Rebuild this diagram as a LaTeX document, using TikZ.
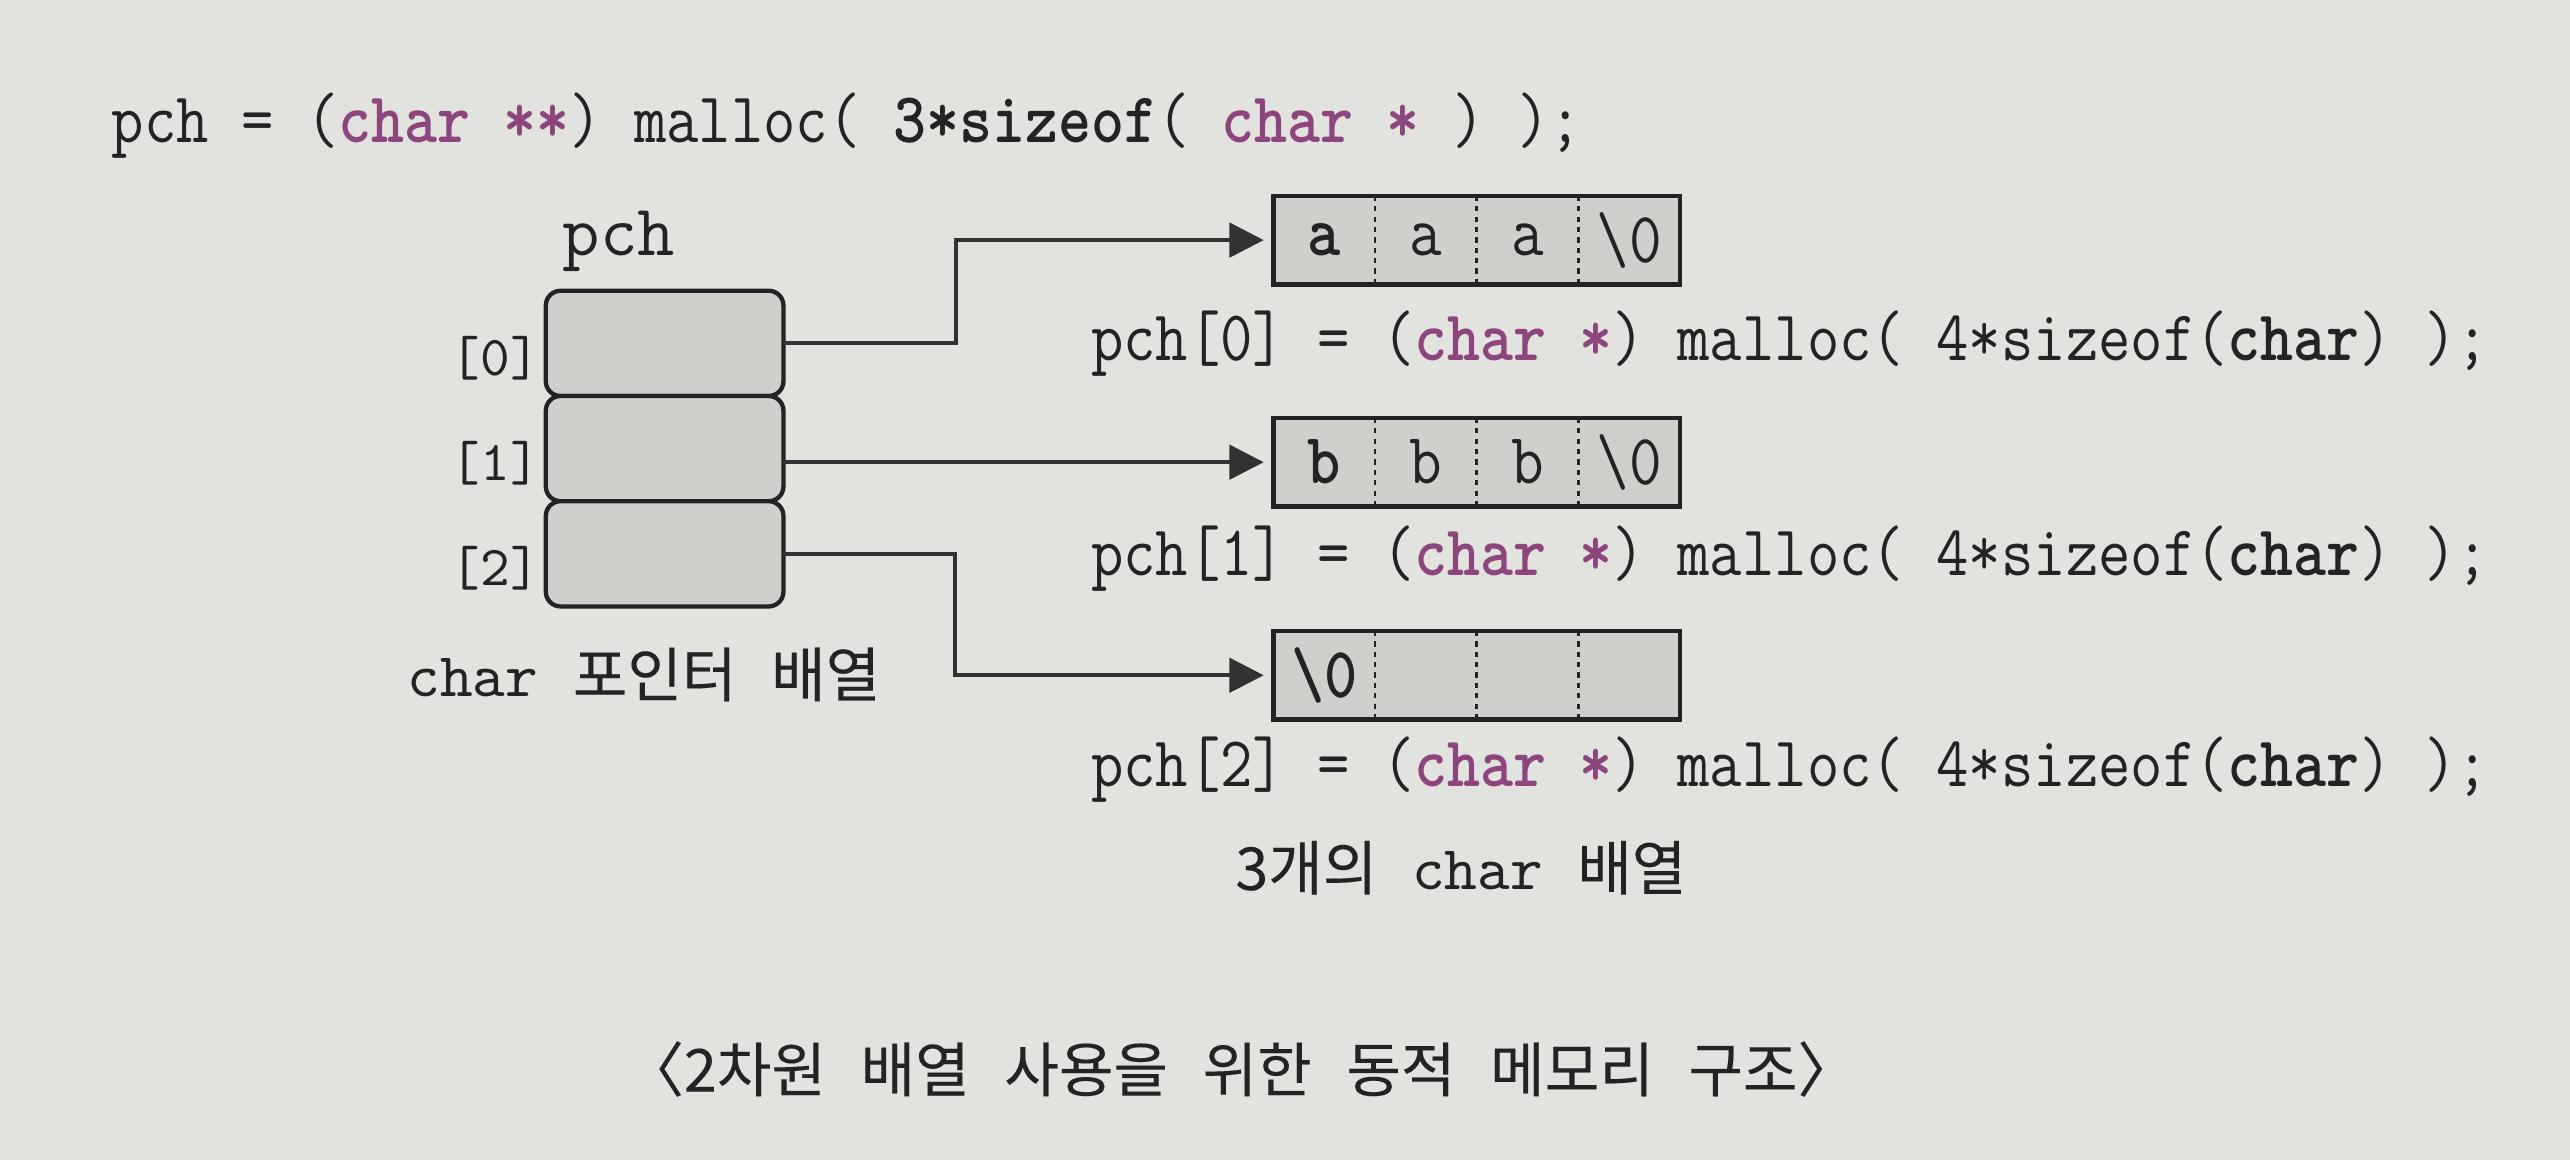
\documentclass[tikz,border=0pt]{standalone}
\usepackage{fontspec}
\usepackage{graphicx}
\usepackage{tikz}
\usetikzlibrary{positioning, arrows.meta}
\newfontfamily\krfont{Noto Sans CJK KR}[WordSpace=2.6, FakeBold=0.2]
\tikzstyle{figurePage} = [y = -1cm]
\definecolor{paperColor}{RGB}{226,227,222}
\definecolor{cellColor}{RGB}{207,208,204}
\definecolor{inkColor}{RGB}{35,35,35}
\definecolor{keyColor}{RGB}{140,70,125}
\definecolor{arrowColor}{RGB}{50,50,50}
\tikzstyle{codeLine} = [anchor = base west, inner sep = 0, text = inkColor, font = \ttfamily\fontsize{12.4}{13}\selectfont]
\tikzstyle{pointerBox} = [draw = inkColor, fill = cellColor, line width = .75pt, rounded corners = .09cm, minimum width = 1.45cm, minimum height = .642cm, inner sep = 0, outer sep = 0]
\tikzstyle{indexLabel} = [inner sep = 0, text = inkColor, font = \ttfamily\fontsize{9.8}{10}\selectfont]
\tikzstyle{nameLabel} = [anchor = base, inner sep = 0, text = inkColor, font = \ttfamily\fontsize{12.6}{13}\selectfont]
\tikzstyle{cellStyle} = [fill = cellColor, minimum width = .62cm, minimum height = .54cm, inner sep = 0, outer sep = 0, text = inkColor, font = \ttfamily\fontsize{12.5}{13}\selectfont]
\tikzstyle{cellSeparator} = [color = inkColor, line width = .45pt, dash pattern = on .9pt off .9pt]
\tikzstyle{arrayFrame} = [color = inkColor, line width = .75pt]
\tikzstyle{pointerArrow} = [color = arrowColor, line width = .7pt, -{Triangle[length = .21cm, width = .21cm]}, shorten >=.06cm]
\tikzstyle{koreanLabel} = [anchor = base west, inner sep = 0, text = inkColor, font = \krfont\fontsize{10.3}{11}\selectfont]
\tikzstyle{captionText} = [anchor = base, inner sep = 0, text = inkColor, font = \krfont\fontsize{10.3}{11}\selectfont]
\newcommand{\narrow}[1]{\scalebox{.88}[1]{#1}}
\newcommand{\keyword}[1]{\textcolor{keyColor}{\textbf{#1}}}
\newcommand{\monoWord}[1]{{\ttfamily\fontsize{10.8}{11}\selectfont #1}}
\newcommand{\arrayLeft}{7.77}
\newcommand{\charArray}[6]{
  \node [cellStyle, anchor = west] (#1a) at (\arrayLeft, #2) {\narrow{#3}};
  \node [cellStyle, right = 0pt of #1a] (#1b) {\narrow{#4}};
  \node [cellStyle, right = 0pt of #1b] (#1c) {\narrow{#5}};
  \node [cellStyle, right = 0pt of #1c] (#1d) {\narrow{#6}};
  \foreach \cell in {a, b, c} {
    \draw [cellSeparator] (#1\cell.north east) -- (#1\cell.south east);
  }
  \draw [arrayFrame] (#1a.north west) rectangle (#1d.south east);
}

\begin{document}
\begin{tikzpicture}[figurePage]
  \fill [paperColor] (0, 0) rectangle (15.68, 7.08);
  \useasboundingbox (0, 0) rectangle (15.68, 7.08);

  \node [codeLine] (mallocRows) at (.675, .87) {\narrow{pch = (\keyword{char **}) malloc( \textbf{3*sizeof}( \keyword{char *} ) );}};

  % pointer array
  \node [nameLabel] (pchName) at (3.777, 1.556) {pch};
  \node [pointerBox] (pch0) at (4.055, 2.095) {};
  \node [pointerBox, below = 0pt of pch0] (pch1) {};
  \node [pointerBox, below = 0pt of pch1] (pch2) {};
  \foreach \i in {0, 1, 2} {
    \node [indexLabel, left = .03cm of pch\i, yshift = -.09cm] (index\i) {[\i]};
  }
  \node [koreanLabel] (pointerCaption) at (2.48, 4.25) {\monoWord{char} 포인터 배열};

  % char arrays
  \charArray{arr0}{1.465}{\textbf{a}}{a}{a}{\textbackslash0}
  \charArray{arr1}{2.82}{\textbf{b}}{b}{b}{\textbackslash0}
  \charArray{arr2}{4.12}{\textbf{\textbackslash0}}{}{}{}

  \draw [pointerArrow] (pch0.east) -- ++(1.05, 0) |- (arr0a.west);
  \draw [pointerArrow] (pch1.east |- arr1a.west) -- (arr1a.west);
  \draw [pointerArrow] (pch2.east) -- ++(1.045, 0) |- (arr2a.west);

  \node [codeLine] (row0) at (6.65, 2.20) {\narrow{pch[0] = (\keyword{char *}) malloc( 4*sizeof(\textbf{char}) );}};
  \node [codeLine] (row1) at (6.65, 3.51) {\narrow{pch[1] = (\keyword{char *}) malloc( 4*sizeof(\textbf{char}) );}};
  \node [codeLine] (row2) at (6.65, 4.80) {\narrow{pch[2] = (\keyword{char *}) malloc( 4*sizeof(\textbf{char}) );}};
  \node [koreanLabel] (arrayCaption) at (7.53, 5.43) {3개의 \monoWord{char} 배열};

  \node [captionText] (figCaption) at (7.57, 6.66) {〈2차원 배열 사용을 위한 동적 메모리 구조〉};
\end{tikzpicture}
\end{document}
